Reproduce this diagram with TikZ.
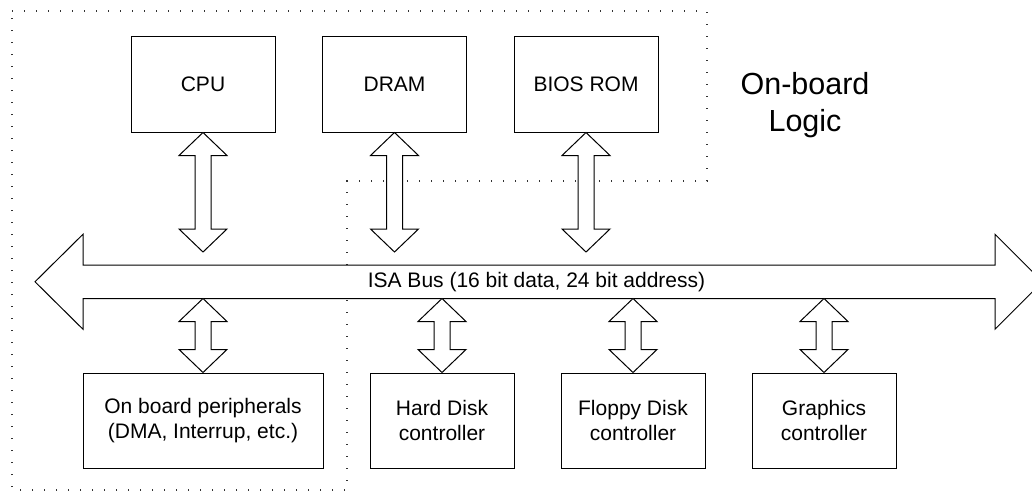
\documentclass[tikz,border=0pt]{standalone}
\usepackage{fontspec}
\setmainfont{Liberation Sans}
\usetikzlibrary{calc}

\tikzset{
  unit/.style={draw, line width=1pt, align=center, inner sep=0pt,
    minimum width=144pt, minimum height=96pt,
    font=\fontsize{21}{24.5}\selectfont},
  blk/.style={draw, line width=1pt, line join=miter, fill=white},
  zone/.style={line width=1.3pt, dash pattern=on 1.3pt off 10.7pt, color=black!80},
  lbl/.style={inner sep=0pt, align=center, font=\fontsize{21}{24.5}\selectfont},
}

% vertical two-headed block arrow from #1 (upper end) to #2 (lower end)
\newcommand\vlink[2]{%
  \draw[blk] let \p1=#1, \p2=#2 in
    (\x1,\y1) -- (\x1+24pt,\y1-23pt) -- (\x1+8pt,\y1-23pt) --
    (\x1+8pt,\y2+23pt) -- (\x1+24pt,\y2+23pt) -- (\x1,\y2) --
    (\x1-24pt,\y2+23pt) -- (\x1-8pt,\y2+23pt) --
    (\x1-8pt,\y1-23pt) -- (\x1-24pt,\y1-23pt) -- cycle;}

\begin{document}
\begin{tikzpicture}[x=1pt, y=-1pt]
\useasboundingbox (0,0) rectangle (1032,491);

% on-board logic region
\draw[zone] (12,11) -- (707,11) -- (707,181) -- (347,181) -- (347,490) -- (12,490) -- cycle;
\node[font=\fontsize{30.5}{37}\selectfont, align=center, inner sep=0pt] (onboard) at (805,105) {On-board\\Logic};

% top row
\node[unit] (cpu)  at (203,84)   {CPU};
\node[unit] (dram) at (394.5,84) {DRAM};
\node[unit] (bios) at (586,84)   {BIOS ROM};

% bottom row
\node[unit, minimum width=240pt, minimum height=95pt] (peri) at (203,420.5) {On board peripherals\\(DMA, Interrup, etc.)};
\node[unit, minimum height=95pt] (hdc) at (442,420.5) {Hard Disk\\controller};
\node[unit, minimum height=95pt] (fdc) at (633,420.5) {Floppy Disk\\controller};
\node[unit, minimum height=95pt] (gfx) at (824,420.5) {Graphics\\controller};

% ISA bus
\coordinate (busL) at (35,281.75);
\coordinate (busR) at (1042.5,281.75);
\coordinate (busbot) at (0,298.5);
\coordinate (topend) at (0,252);
\draw[blk] let \p1=(busL), \p2=(busR) in
  (\x1,\y1) -- (\x1+48pt,\y1+47.5pt) -- (\x1+48pt,\y1+16.75pt) --
  (\x2-47.5pt,\y1+16.75pt) -- (\x2-47.5pt,\y1+47.5pt) -- (\x2,\y2) --
  (\x2-47.5pt,\y1-47.5pt) -- (\x2-47.5pt,\y1-16.75pt) --
  (\x1+48pt,\y1-16.75pt) -- (\x1+48pt,\y1-47.5pt) -- cycle;
\node[lbl] (bus) at (536.5,282) {ISA Bus (16 bit data, 24 bit address)};

% links between the bus and the units
\vlink{(cpu.south)}{(cpu.south |- topend)}
\vlink{(dram.south)}{(dram.south |- topend)}
\vlink{(bios.south)}{(bios.south |- topend)}
\vlink{(peri.north |- busbot)}{(peri.north)}
\vlink{(hdc.north |- busbot)}{(hdc.north)}
\vlink{(fdc.north |- busbot)}{(fdc.north)}
\vlink{(gfx.north |- busbot)}{(gfx.north)}
\end{tikzpicture}
\end{document}
